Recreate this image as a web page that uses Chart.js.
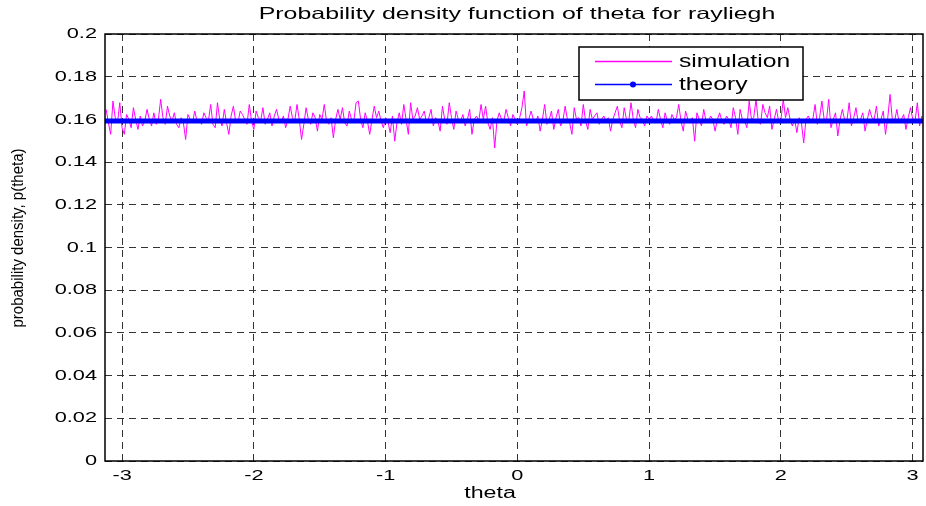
<!DOCTYPE html>
<html>
<head>
<meta charset="utf-8">
<script src="https://cdn.jsdelivr.net/npm/chart.js@4.4.0/dist/chart.umd.min.js"></script>
<style>
  html, body { margin: 0; padding: 0; background: #fff; }
  #wrap { width: 926px; height: 506px; position: relative; }
</style>
</head>
<body>
<div id="wrap"><canvas id="pdf-chart"></canvas></div>
<script>
// simulated histogram density left to right
const simulation = [
  0.1647, 0.1584, 0.1530, 0.1686, 0.1608, 0.1584, 0.1678, 0.1561, 0.1530, 0.1623,
  0.1600, 0.1561, 0.1655, 0.1600, 0.1553, 0.1616, 0.1569, 0.1592, 0.1647, 0.1600,
  0.1569, 0.1631, 0.1577, 0.1600, 0.1694, 0.1608, 0.1577, 0.1662, 0.1616, 0.1592,
  0.1631, 0.1577, 0.1561, 0.1608, 0.1584, 0.1506, 0.1623, 0.1600, 0.1584, 0.1639,
  0.1592, 0.1600, 0.1577, 0.1631, 0.1608, 0.1592, 0.1670, 0.1577, 0.1561, 0.1678,
  0.1600, 0.1569, 0.1647, 0.1584, 0.1530, 0.1616, 0.1662, 0.1592, 0.1584, 0.1639,

  0.1623, 0.1600, 0.1577, 0.1670, 0.1592, 0.1553, 0.1639, 0.1608, 0.1592, 0.1655,
  0.1577, 0.1600, 0.1631, 0.1569, 0.1616, 0.1647, 0.1600, 0.1584, 0.1616, 0.1561,
  0.1600, 0.1662, 0.1608, 0.1592, 0.1670, 0.1600, 0.1506, 0.1577, 0.1655, 0.1600,
  0.1577, 0.1631, 0.1608, 0.1545, 0.1623, 0.1600, 0.1670, 0.1592, 0.1577, 0.1608,
  0.1514, 0.1600, 0.1647, 0.1600, 0.1655, 0.1584, 0.1569, 0.1639, 0.1600, 0.1592,
  0.1678, 0.1686, 0.1600, 0.1561, 0.1631, 0.1592, 0.1530, 0.1600, 0.1662, 0.1608,

  0.1639, 0.1592, 0.1561, 0.1608, 0.1592, 0.1538, 0.1616, 0.1498, 0.1584, 0.1631,
  0.1577, 0.1670, 0.1600, 0.1530, 0.1678, 0.1600, 0.1616, 0.1655, 0.1600, 0.1616,
  0.1639, 0.1584, 0.1608, 0.1647, 0.1569, 0.1608, 0.1592, 0.1545, 0.1662, 0.1600,
  0.1577, 0.1678, 0.1608, 0.1553, 0.1639, 0.1600, 0.1592, 0.1623, 0.1569, 0.1600,
  0.1647, 0.1530, 0.1600, 0.1616, 0.1592, 0.1670, 0.1600, 0.1662, 0.1584, 0.1553,
  0.1608, 0.1466, 0.1592, 0.1631, 0.1600, 0.1592, 0.1647, 0.1608, 0.1569, 0.1623,

  0.1600, 0.1577, 0.1608, 0.1655, 0.1733, 0.1569, 0.1600, 0.1639, 0.1600, 0.1584,
  0.1616, 0.1545, 0.1600, 0.1670, 0.1577, 0.1600, 0.1639, 0.1553, 0.1608, 0.1647,
  0.1569, 0.1592, 0.1662, 0.1600, 0.1584, 0.1530, 0.1655, 0.1600, 0.1608, 0.1569,
  0.1670, 0.1592, 0.1553, 0.1647, 0.1600, 0.1616, 0.1631, 0.1577, 0.1600, 0.1616,
  0.1592, 0.1608, 0.1545, 0.1600, 0.1631, 0.1662, 0.1592, 0.1561, 0.1655, 0.1600,
  0.1592, 0.1678, 0.1600, 0.1561, 0.1647, 0.1608, 0.1600, 0.1569, 0.1616, 0.1600,

  0.1616, 0.1592, 0.1584, 0.1647, 0.1600, 0.1561, 0.1631, 0.1592, 0.1577, 0.1623,
  0.1600, 0.1608, 0.1670, 0.1592, 0.1545, 0.1639, 0.1600, 0.1592, 0.1608, 0.1498,
  0.1631, 0.1600, 0.1569, 0.1647, 0.1592, 0.1584, 0.1616, 0.1600, 0.1545, 0.1600,
  0.1631, 0.1592, 0.1577, 0.1616, 0.1600, 0.1561, 0.1655, 0.1608, 0.1530, 0.1647,
  0.1600, 0.1592, 0.1561, 0.1686, 0.1600, 0.1608, 0.1694, 0.1592, 0.1577, 0.1670,
  0.1631, 0.1608, 0.1662, 0.1553, 0.1600, 0.1647, 0.1592, 0.1600, 0.1694, 0.1608,

  0.1655, 0.1600, 0.1569, 0.1600, 0.1538, 0.1608, 0.1584, 0.1490, 0.1600, 0.1616,
  0.1592, 0.1600, 0.1670, 0.1577, 0.1608, 0.1686, 0.1600, 0.1592, 0.1694, 0.1561,
  0.1600, 0.1631, 0.1522, 0.1600, 0.1647, 0.1600, 0.1592, 0.1678, 0.1569, 0.1608,
  0.1655, 0.1584, 0.1600, 0.1631, 0.1545, 0.1600, 0.1647, 0.1608, 0.1600, 0.1662,
  0.1569, 0.1600, 0.1639, 0.1530, 0.1608, 0.1717, 0.1600, 0.1592, 0.1647, 0.1584,
  0.1600, 0.1623, 0.1553, 0.1608, 0.1655, 0.1600, 0.1592, 0.1678, 0.1569, 0.1616
];
const theoryTheta = [-3.1416, 3.1416];
const theoryValues = [0.1592, 0.1592];
const xTicks = [-3, -2, -1, 0, 1, 2, 3];
const yTicks = [0, 0.02, 0.04, 0.06, 0.08, 0.1, 0.12, 0.14, 0.16, 0.18, 0.2];
const thetaMin = -3.13;
const thetaMax = 3.08;

document.addEventListener("DOMContentLoaded", function () {
  const FONT = '"Liberation Sans", Arial, Helvetica, sans-serif';
  const SX = 1.45; // the figure was stretched sideways

  // bins laid evenly across the visible range
  const simPoints = simulation.map((v, i) => ({
    x: thetaMin + (i + 0.5) * (thetaMax - thetaMin) / simulation.length,
    y: v
  }));
  const theoryPoints = theoryTheta.map((t, i) => ({ x: t, y: theoryValues[i] }));

  function wideText(ctx, text, x, y, size, sx, align) {
    ctx.save();
    ctx.font = size + 'px ' + FONT;
    ctx.fillStyle = '#000';
    ctx.textAlign = align || 'center';
    ctx.textBaseline = 'middle';
    ctx.translate(x, y);
    ctx.scale(sx, 1);
    ctx.fillText(text, 0, 0);
    ctx.restore();
  }

  const decorations = {
    id: 'matlabLook',
    afterDraw(chart) {
      const ctx = chart.ctx;
      const a = chart.chartArea;
      const xs = chart.scales.x;
      const ys = chart.scales.y;

      // axes box
      ctx.save();
      ctx.strokeStyle = '#000';
      ctx.lineWidth = 1.5;
      ctx.strokeRect(a.left, a.top, a.right - a.left, a.bottom - a.top);
      ctx.restore();

      yTicks.forEach(v => {
        wideText(ctx, String(v), a.left - 8, ys.getPixelForValue(v), 15, SX, 'right');
      });
      xTicks.forEach(v => {
        wideText(ctx, String(v), xs.getPixelForValue(v), a.bottom + 15, 15, SX, 'center');
      });

      wideText(ctx, 'Probability density function of theta for rayliegh', 517, 14, 16.5, 1.51, 'center');
      wideText(ctx, 'theta', 490, 494, 16, SX, 'center');

      ctx.save();
      ctx.translate(18, 238);
      ctx.rotate(-Math.PI / 2);
      ctx.font = '15px ' + FONT;
      ctx.fillStyle = '#000';
      ctx.textAlign = 'center';
      ctx.textBaseline = 'middle';
      ctx.scale(1, 1.15);
      ctx.fillText('probability density, p(theta)', 0, 0);
      ctx.restore();

      // legend
      ctx.save();
      ctx.fillStyle = '#fff';
      ctx.fillRect(579, 47, 224, 53);
      ctx.strokeStyle = '#000';
      ctx.lineWidth = 1.5;
      ctx.strokeRect(579, 47, 224, 53);
      ctx.lineWidth = 1.3;
      ctx.strokeStyle = '#ff00ff';
      ctx.beginPath(); ctx.moveTo(595, 61.5); ctx.lineTo(672, 61.5); ctx.stroke();
      ctx.strokeStyle = '#0000ff';
      ctx.beginPath(); ctx.moveTo(595, 84.5); ctx.lineTo(672, 84.5); ctx.stroke();
      ctx.fillStyle = '#0000ff';
      ctx.beginPath(); ctx.arc(633, 84.5, 3, 0, Math.PI * 2); ctx.fill();
      ctx.restore();
      wideText(ctx, 'simulation', 679, 62, 19, 1.3, 'left');
      wideText(ctx, 'theory', 679, 85, 19, 1.3, 'left');
    }
  };

  const ctx = document.getElementById('pdf-chart').getContext('2d');
  const pdfChart = new Chart(ctx, {
    type: 'line',
    data: {
      datasets: [{
        label: 'theory',
        data: theoryPoints,
        borderColor: '#0000ff',
        borderWidth: 5,
        pointRadius: 0,
        order: 0
      }, {
        label: 'simulation',
        data: simPoints,
        borderColor: '#ff00ff',
        borderWidth: 1,
        pointRadius: 0,
        tension: 0,
        order: 1
      }]
    },
    options: {
      responsive: true,
      maintainAspectRatio: false,
      animation: false,
      layout: { padding: { left: 0, top: 34, right: 3, bottom: 0 } },
      plugins: {
        legend: { display: false },
        title: { display: false },
        tooltip: { enabled: false }
      },
      scales: {
        x: {
          type: 'linear',
          min: thetaMin,
          max: thetaMax,
          afterBuildTicks: s => { s.ticks = xTicks.map(v => ({ value: v })); },
          afterFit: s => { s.height = 45; },
          ticks: { display: false },
          grid: { color: '#333', lineWidth: 1, drawTicks: false },
          border: { display: false, dash: [7, 5] }
        },
        y: {
          min: 0,
          max: 0.2,
          afterBuildTicks: s => { s.ticks = yTicks.map(v => ({ value: v })); },
          afterFit: s => { s.width = 105; },
          ticks: { display: false },
          grid: { color: '#333', lineWidth: 1, drawTicks: false },
          border: { display: false, dash: [7, 5] }
        }
      }
    },
    plugins: [decorations]
  });
});
</script>
</body>
</html>
